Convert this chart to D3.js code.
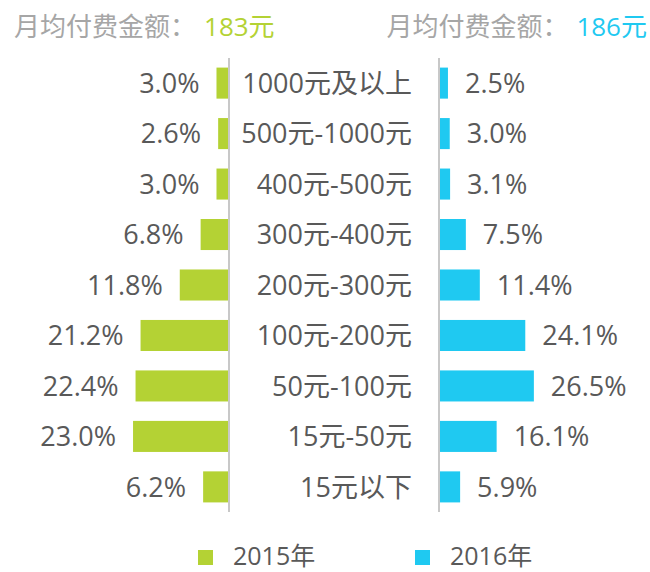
<!DOCTYPE html>
<html>
<head>
<meta charset="utf-8">
<script src="https://cdn.jsdelivr.net/npm/d3@7/dist/d3.min.js"></script>
<style>
  body { margin: 0; background: #fff; }
  svg text { font-family: "Open Sans", "Noto Sans CJK SC", sans-serif; }
</style>
</head>
<body>
<div id="chart"></div>
<script>
var categories = ["1000元及以上", "500元-1000元", "400元-500元", "300元-400元", "200元-300元",
  "100元-200元", "50元-100元", "15元-50元", "15元以下"];
var values2015 = [3.0, 2.6, 3.0, 6.8, 11.8, 21.2, 22.4, 23.0, 6.2];
var values2016 = [2.5, 3.0, 3.1, 7.5, 11.4, 24.1, 26.5, 16.1, 5.9];
var years = ["2015年", "2016年"];
var avgPay = ["183元", "186元"];

var width = 650, height = 572;
var green = "#b4d234", cyan = "#1fc9f1", textColor = "#595959";

var svg = d3.select("#chart").append("svg")
  .attr("width", width)
  .attr("height", height);

var yScale = d3.scaleBand().domain(categories).range([58, 512]).paddingInner(0.385).paddingOuter(0.19);
var leftX = d3.scaleLinear().domain([0, 25]).range([229, 124.7]);
var rightX = d3.scaleLinear().domain([0, 30]).range([439, 546.4]);

// titles
var t1 = svg.append("text").attr("x", 14).attr("y", 36).style("font-size", "26px").attr("fill", "#a6a6a6");
t1.append("tspan").text("月均付费金额：");
t1.append("tspan").attr("dx", 8).attr("fill", green).text(avgPay[0]);
var t2 = svg.append("text").attr("x", 647).attr("y", 36).attr("text-anchor", "end").style("font-size", "26px").attr("fill", "#a6a6a6");
t2.append("tspan").text("月均付费金额：");
t2.append("tspan").attr("dx", 8).attr("fill", cyan).text(avgPay[1]);

// left bars
svg.append("g").selectAll("rect")
  .data(values2015)
  .enter().append("rect")
  .attr("x", function(d) { return leftX(d); })
  .attr("y", function(d, i) { return yScale(categories[i]); })
  .attr("width", function(d) { return leftX(0) - leftX(d); })
  .attr("height", yScale.bandwidth())
  .attr("fill", green);

// right bars
svg.append("g").selectAll("rect")
  .data(values2016)
  .enter().append("rect")
  .attr("x", rightX(0))
  .attr("y", function(d, i) { return yScale(categories[i]); })
  .attr("width", function(d) { return rightX(d) - rightX(0); })
  .attr("height", yScale.bandwidth())
  .attr("fill", cyan);

// axis lines
svg.append("line").attr("x1", 229).attr("x2", 229).attr("y1", yScale.range()[0]).attr("y2", yScale.range()[1])
  .attr("stroke", "#c8c8c8").attr("stroke-width", 2);
svg.append("line").attr("x1", 439).attr("x2", 439).attr("y1", yScale.range()[0]).attr("y2", yScale.range()[1])
  .attr("stroke", "#c8c8c8").attr("stroke-width", 2);

// value labels
svg.append("g").selectAll("text")
  .data(values2015)
  .enter().append("text")
  .attr("x", function(d) { return leftX(d) - 17; })
  .attr("y", function(d, i) { return yScale(categories[i]) + yScale.bandwidth() / 2; })
  .attr("dy", "0.36em")
  .attr("text-anchor", "end")
  .style("font-size", "27px")
  .attr("fill", textColor)
  .text(function(d) { return d.toFixed(1) + "%"; });

svg.append("g").selectAll("text")
  .data(values2016)
  .enter().append("text")
  .attr("x", function(d) { return rightX(d) + 17; })
  .attr("y", function(d, i) { return yScale(categories[i]) + yScale.bandwidth() / 2; })
  .attr("dy", "0.36em")
  .style("font-size", "27px")
  .attr("fill", textColor)
  .text(function(d) { return d.toFixed(1) + "%"; });

// category labels
svg.append("g").selectAll("text")
  .data(categories)
  .enter().append("text")
  .attr("x", 412)
  .attr("y", function(d) { return yScale(d) + yScale.bandwidth() / 2; })
  .attr("dy", "0.36em")
  .attr("text-anchor", "end")
  .style("font-size", "27px")
  .attr("fill", textColor)
  .text(function(d) { return d; });

// legend
var legend = svg.append("g").selectAll("g")
  .data(years)
  .enter().append("g")
  .attr("transform", function(d, i) { return "translate(" + (198 + i * 217) + ",550)"; });
legend.append("rect").attr("width", 15).attr("height", 15)
  .attr("fill", function(d, i) { return i == 0 ? green : cyan; });
legend.append("text").attr("x", 35).attr("y", 7.5).attr("dy", "0.3em")
  .style("font-size", "25px").attr("fill", textColor)
  .text(function(d) { return d; });
</script>
</body>
</html>
